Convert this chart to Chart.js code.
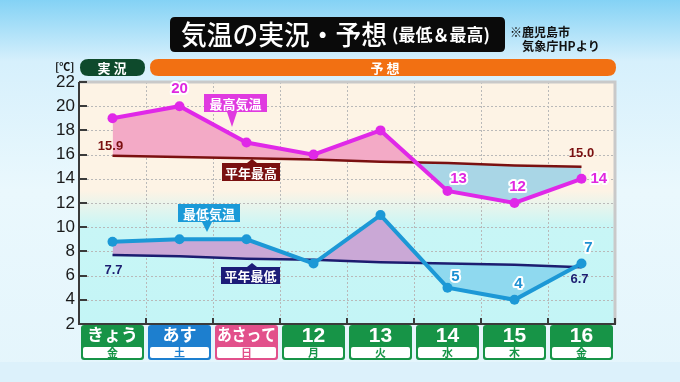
<!DOCTYPE html>
<html>
<head>
<meta charset="utf-8">
<script src="https://cdn.jsdelivr.net/npm/chart.js@4"></script>
<style>
  html, body { margin: 0; padding: 0; }
  body { width: 680px; height: 382px; overflow: hidden; }
  canvas { display: block; }
</style>
</head>
<body>
<canvas id="kion" width="680" height="382"></canvas>
<script>
// 日付ラベル（上段）と曜日（下段）
const days = ["きょう", "あす", "あさって", "12", "13", "14", "15", "16"];
const weekdays = ["金", "土", "日", "月", "火", "水", "木", "金"];
const dayColors = ["#179447", "#1d7fcf", "#e2508b", "#179447", "#179447", "#179447", "#179447", "#179447"];

// 気温（℃）
const maxTemp = [19, 20, 17, 16, 18, 13, 12, 14];
const minTemp = [8.8, 9, 9, 7, 11, 5, 4, 7];
const normalMax = [15.9, 15.8, 15.7, 15.6, 15.4, 15.3, 15.1, 15.0];
const normalMin = [7.7, 7.6, 7.4, 7.3, 7.1, 7.0, 6.9, 6.7];

// 表示する値ラベル
const maxLabelIdx = [1, 5, 6, 7];
const minLabelIdx = [5, 6, 7];
const normalLabelIdx = [0, 7];

const Y_MIN = 2, Y_MAX = 22, Y_STEP = 2;

const JP = '"Noto Sans CJK JP", "Noto Sans", sans-serif';
const NUM = '"Liberation Sans", Arial, sans-serif';

function roundRect(ctx, x, y, w, h, r) {
  ctx.beginPath();
  ctx.moveTo(x + r, y);
  ctx.lineTo(x + w - r, y);
  ctx.quadraticCurveTo(x + w, y, x + w, y + r);
  ctx.lineTo(x + w, y + h - r);
  ctx.quadraticCurveTo(x + w, y + h, x + w - r, y + h);
  ctx.lineTo(x + r, y + h);
  ctx.quadraticCurveTo(x, y + h, x, y + h - r);
  ctx.lineTo(x, y + r);
  ctx.quadraticCurveTo(x, y, x + r, y);
  ctx.closePath();
}

function outlinedText(ctx, text, x, y, color, font, align) {
  ctx.font = font;
  ctx.textAlign = align || "center";
  ctx.textBaseline = "middle";
  ctx.lineJoin = "round";
  ctx.strokeStyle = "#ffffff";
  ctx.lineWidth = 4;
  ctx.strokeText(text, x, y);
  ctx.fillStyle = color;
  ctx.fillText(text, x, y);
}

// 吹き出しラベル
function callout(ctx, text, x, y, w, h, color, tipX, tipY) {
  ctx.fillStyle = color;
  ctx.fillRect(x, y, w, h);
  ctx.beginPath();
  if (tipY > y + h) {
    ctx.moveTo(tipX - 5, y + h);
    ctx.lineTo(tipX + 5, y + h);
  } else {
    ctx.moveTo(tipX - 5, y);
    ctx.lineTo(tipX + 5, y);
  }
  ctx.lineTo(tipX, tipY);
  ctx.closePath();
  ctx.fill();
  ctx.fillStyle = "#ffffff";
  ctx.font = "bold 13px " + JP;
  ctx.textAlign = "center";
  ctx.textBaseline = "middle";
  ctx.fillText(text, x + w / 2, y + h / 2 + 1);
}

const decorPlugin = {
  id: "decor",
  beforeDraw(chart) {
    const { ctx, chartArea: a, width, height } = chart;
    ctx.save();
    // 外側の背景
    const bg = ctx.createLinearGradient(0, 0, 0, height);
    bg.addColorStop(0, "#84d2f5");
    bg.addColorStop(0.16, "#d6f0fc");
    bg.addColorStop(0.5, "#eaf8fd");
    bg.addColorStop(1, "#e4f5fc");
    ctx.fillStyle = bg;
    ctx.fillRect(0, 0, width, height);
    ctx.fillStyle = "#dcf1fb";
    ctx.fillRect(0, 362, width, height - 362);

    // プロット領域の背景（上：クリーム、下：水色）
    const pg = ctx.createLinearGradient(0, a.top, 0, a.bottom);
    pg.addColorStop(0, "#fdf3e5");
    pg.addColorStop(0.45, "#fdf3e5");
    pg.addColorStop(0.6, "#c8f6f6");
    pg.addColorStop(1, "#c4f5f6");
    ctx.fillStyle = pg;
    ctx.fillRect(a.left, a.top, a.right - a.left, a.bottom - a.top);

    // 点線グリッド
    const x = chart.scales.x, y = chart.scales.y;
    ctx.strokeStyle = "#b9b9b9";
    ctx.lineWidth = 1;
    ctx.setLineDash([2, 2]);
    for (let v = Y_MIN + Y_STEP; v < Y_MAX; v += Y_STEP) {
      const py = Math.round(y.getPixelForValue(v)) + 0.5;
      ctx.beginPath();
      ctx.moveTo(a.left, py);
      ctx.lineTo(a.right, py);
      ctx.stroke();
    }
    for (let i = 1; i < days.length; i++) {
      const px = Math.round((x.getPixelForValue(i - 1) + x.getPixelForValue(i)) / 2) + 0.5;
      ctx.beginPath();
      ctx.moveTo(px, a.top);
      ctx.lineTo(px, a.bottom);
      ctx.stroke();
    }
    ctx.setLineDash([]);
    ctx.restore();
  },
  afterDatasetsDraw(chart) {
    const { ctx, chartArea: a } = chart;
    const x = chart.scales.x, y = chart.scales.y;
    ctx.save();

    // 枠線
    ctx.strokeStyle = "#c9c9c9";
    ctx.lineWidth = 3;
    ctx.beginPath();
    ctx.moveTo(a.left, a.top);
    ctx.lineTo(a.right, a.top);
    ctx.lineTo(a.right, a.bottom);
    ctx.stroke();
    ctx.strokeStyle = "#3a3a3a";
    ctx.lineWidth = 2;
    ctx.beginPath();
    ctx.moveTo(a.left, a.top);
    ctx.lineTo(a.left, a.bottom);
    ctx.lineTo(a.right + 1, a.bottom);
    ctx.stroke();
    // 目盛り
    for (let v = Y_MIN; v <= Y_MAX; v += Y_STEP) {
      const py = Math.round(y.getPixelForValue(v));
      ctx.beginPath();
      ctx.moveTo(a.left, py);
      ctx.lineTo(a.left + 8, py);
      ctx.stroke();
    }
    for (let i = 1; i <= days.length; i++) {
      const px = i < days.length
        ? Math.round((x.getPixelForValue(i - 1) + x.getPixelForValue(i)) / 2)
        : a.right;
      ctx.beginPath();
      ctx.moveTo(px, a.bottom);
      ctx.lineTo(px, a.bottom - 6);
      ctx.stroke();
    }

    // 値ラベル
    const numFont = "bold 15px " + NUM;
    const maxPts = chart.getDatasetMeta(2).data;
    const minPts = chart.getDatasetMeta(3).data;
    const nMaxPts = chart.getDatasetMeta(0).data;
    const nMinPts = chart.getDatasetMeta(1).data;
    const maxOff = { 1: [0, -17, "center"], 5: [11, -12, "center"], 6: [3, -16, "center"], 7: [9, 0, "left"] };
    maxLabelIdx.forEach(i => {
      const p = maxPts[i], o = maxOff[i];
      outlinedText(ctx, String(maxTemp[i]), p.x + o[0], p.y + o[1], "#e028e0", numFont, o[2]);
    });
    const minOff = { 5: [8, -11], 6: [4, -16], 7: [7, -16] };
    minLabelIdx.forEach(i => {
      const p = minPts[i], o = minOff[i];
      outlinedText(ctx, String(minTemp[i]), p.x + o[0], p.y + o[1], "#1e90d2", numFont, "center");
    });
    ctx.font = "bold 13px " + NUM;
    ctx.textAlign = "center";
    ctx.textBaseline = "middle";
    const nMaxOff = { 0: [-2, -9], 7: [0, -13] };
    const nMinOff = { 0: [1, 15], 7: [-2, 12] };
    normalLabelIdx.forEach(i => {
      ctx.fillStyle = "#7a1010";
      ctx.fillText(normalMax[i].toFixed(1), nMaxPts[i].x + nMaxOff[i][0], nMaxPts[i].y + nMaxOff[i][1]);
      ctx.fillStyle = "#1c1c70";
      ctx.fillText(normalMin[i].toFixed(1), nMinPts[i].x + nMinOff[i][0], nMinPts[i].y + nMinOff[i][1]);
    });

    // 吹き出し
    callout(ctx, "最高気温", 204, 94, 63, 18, "#e03ae0", 232, 127);
    callout(ctx, "平年最高", 222, 163, 58, 18, "#7a1010", 252, 159);
    callout(ctx, "最低気温", 178, 204, 62, 18, "#1a9ad8", 207, 232);
    callout(ctx, "平年最低", 221, 267, 59, 17, "#1c1c78", 252, 263);
    ctx.restore();
  },
  afterDraw(chart) {
    const { ctx, chartArea: a } = chart;
    const x = chart.scales.x;
    ctx.save();

    // タイトル（横を詰めて描く）
    ctx.fillStyle = "#0a0a0a";
    roundRect(ctx, 170, 17, 335, 35, 5);
    ctx.fill();
    ctx.fillStyle = "#ffffff";
    ctx.textBaseline = "middle";
    ctx.textAlign = "left";
    ctx.font = "500 27px " + JP;
    ctx.fillText("気温の実況・予想", 181, 35, 206);
    ctx.font = "bold 17px " + JP;
    ctx.fillText("(最低＆最高)", 392, 35, 105);

    ctx.fillStyle = "#111111";
    ctx.font = "bold 12.5px " + JP;
    ctx.fillText("※鹿児島市", 510, 32, 60);
    ctx.fillText("気象庁HPより", 522, 46, 78);

    // 実況・予想の帯
    ctx.font = "bold 11px " + JP;
    ctx.fillText("[℃]", 55, 67);
    ctx.fillStyle = "#0e4a2c";
    roundRect(ctx, 80, 59, 65, 17, 8.5);
    ctx.fill();
    ctx.fillStyle = "#f27012";
    roundRect(ctx, 150, 59, 466, 17, 8.5);
    ctx.fill();
    ctx.fillStyle = "#ffffff";
    ctx.textAlign = "center";
    ctx.font = "bold 13px " + JP;
    ctx.fillText("実 況", 112, 68);
    ctx.fillText("予 想", 385, 68);

    // 日付ボックス
    const step = x.getPixelForValue(1) - x.getPixelForValue(0);
    days.forEach((d, i) => {
      const cx = x.getPixelForValue(i);
      const bx = cx - step / 2 + 2, bw = step - 4;
      const top = a.bottom + 1, bottom = 360;
      ctx.fillStyle = dayColors[i];
      roundRect(ctx, bx, top, bw, bottom - top, 3);
      ctx.fill();
      ctx.fillStyle = "#ffffff";
      roundRect(ctx, bx + 2, 347, bw - 4, 11, 2);
      ctx.fill();
      ctx.fillStyle = "#ffffff";
      if (/^\d+$/.test(d)) {
        ctx.font = "bold 21px " + NUM;
        ctx.fillText(d, cx, 336);
      } else {
        ctx.font = "bold 17px " + JP;
        ctx.fillText(d, cx, 335, bw - 4);
      }
      ctx.fillStyle = dayColors[i];
      ctx.font = "bold 11px " + JP;
      ctx.fillText(weekdays[i], cx, 353);
    });
    ctx.restore();
  }
};

new Chart(document.getElementById("kion"), {
  type: "line",
  data: {
    labels: days,
    datasets: [
      {
        label: "平年最高",
        data: normalMax,
        borderColor: "#7a1010",
        borderWidth: 2.5,
        pointRadius: 0,
        fill: false,
        order: 2
      },
      {
        label: "平年最低",
        data: normalMin,
        borderColor: "#1c1c70",
        borderWidth: 2.5,
        pointRadius: 0,
        fill: false,
        order: 2
      },
      {
        label: "最高気温",
        data: maxTemp,
        borderColor: "#e028e8",
        backgroundColor: "#e028e8",
        borderWidth: 4,
        pointRadius: 5,
        pointBorderWidth: 0,
        fill: { target: 0, above: "#f3aac6", below: "#a9d6e6" },
        order: 1
      },
      {
        label: "最低気温",
        data: minTemp,
        borderColor: "#1c98d6",
        backgroundColor: "#1c98d6",
        borderWidth: 4,
        pointRadius: 5,
        pointBorderWidth: 0,
        fill: { target: 1, above: "#caa8d6", below: "#8fd9ef" },
        order: 1
      }
    ]
  },
  options: {
    responsive: false,
    animation: false,
    layout: { padding: { left: 40, top: 82, right: 65, bottom: 0 } },
    scales: {
      x: {
        offset: true,
        grid: { display: false, drawTicks: false },
        border: { display: false },
        ticks: { display: false },
        afterFit: (s) => { s.height = 58; }
      },
      y: {
        min: Y_MIN,
        max: Y_MAX,
        grid: { display: false, drawTicks: false },
        border: { display: false },
        ticks: {
          stepSize: Y_STEP,
          padding: 4,
          color: "#1a1a1a",
          font: { family: NUM, size: 17 }
        },
        afterFit: (s) => { s.width = 39; }
      }
    },
    plugins: {
      legend: { display: false },
      tooltip: { enabled: false },
      filler: { drawTime: "beforeDatasetsDraw" }
    }
  },
  plugins: [decorPlugin]
});
</script>
</body>
</html>
